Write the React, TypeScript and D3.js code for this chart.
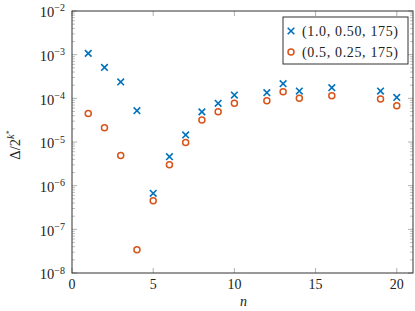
import React from "react";
import * as d3 from "d3";

// n values where both runs have a result
const nValues = [1, 2, 3, 4, 5, 6, 7, 8, 9, 10, 12, 13, 14, 16, 19, 20];
// (1.0, 0.50, 175)
const seriesA = [
  1.07e-3, 5.1e-4, 2.37e-4, 5.2e-5, 6.7e-7, 4.6e-6, 1.45e-5, 4.9e-5, 7.7e-5,
  1.19e-4, 1.35e-4, 2.17e-4, 1.47e-4, 1.75e-4, 1.47e-4, 1.05e-4,
];
// (0.5, 0.25, 175)
const seriesB = [
  4.5e-5, 2.13e-5, 4.9e-6, 3.4e-8, 4.5e-7, 3.0e-6, 9.7e-6, 3.2e-5, 4.9e-5,
  7.7e-5, 8.8e-5, 1.42e-4, 1.0e-4, 1.15e-4, 9.7e-5, 6.8e-5,
];
const legendLabels = ["(1.0, 0.50, 175)", "(0.5, 0.25, 175)"];
const xTicks = [0, 5, 10, 15, 20];
const yExponents = [-2, -3, -4, -5, -6, -7, -8];

export default function App() {
  const width = 415;
  const height = 311;
  const left = 72;
  const right = 413;
  const top = 11;
  const bottom = 273;
  const blue = "#0072BD";
  const orange = "#D95319";
  const font = "'Liberation Serif', 'DejaVu Serif', serif";

  const x = d3.scaleLinear().domain([0, 21]).range([left, right]);
  const y = d3.scaleLog().domain([1e-8, 1e-2]).range([bottom, top]);

  // minor ticks 2..9 per decade
  const minor: number[] = [];
  for (let e = -8; e < -2; e++) {
    for (let m = 2; m <= 9; m++) minor.push(m * Math.pow(10, e));
  }

  const tickColor = "#b0b0b0";

  return (
    <svg
      width={width}
      height={height}
      style={{ position: "absolute", left: 0, top: 0, background: "#fff" }}
    >
      {/* minor ticks on log axis */}
      {minor.map((v, i) => (
        <g key={"m" + i} stroke={tickColor} strokeWidth={0.8}>
          <line x1={left} x2={left + 3} y1={y(v)} y2={y(v)} />
          <line x1={right} x2={right - 3} y1={y(v)} y2={y(v)} />
        </g>
      ))}
      {/* major ticks */}
      {yExponents.map((e) => (
        <g key={"y" + e} stroke={tickColor} strokeWidth={1}>
          <line x1={left} x2={left + 5} y1={y(Math.pow(10, e))} y2={y(Math.pow(10, e))} />
          <line x1={right} x2={right - 5} y1={y(Math.pow(10, e))} y2={y(Math.pow(10, e))} />
        </g>
      ))}
      {xTicks.map((t) => (
        <g key={"x" + t} stroke={tickColor} strokeWidth={1}>
          <line x1={x(t)} x2={x(t)} y1={bottom} y2={bottom - 5} />
          <line x1={x(t)} x2={x(t)} y1={top} y2={top + 5} />
        </g>
      ))}

      {/* frame */}
      <rect
        x={left}
        y={top}
        width={right - left}
        height={bottom - top}
        fill="none"
        stroke="#333"
        strokeWidth={1}
      />

      {/* x tick labels */}
      {xTicks.map((t) => (
        <text
          key={"xl" + t}
          x={x(t)}
          y={289}
          textAnchor="middle"
          fontFamily={font}
          fontSize={14}
          fill="#222"
        >
          {t}
        </text>
      ))}

      {/* y tick labels */}
      {yExponents.map((e) => (
        <text
          key={"yl" + e}
          x={65}
          y={y(Math.pow(10, e)) + 6.3}
          textAnchor="end"
          fontFamily={font}
          fontSize={14.5}
          fill="#222"
        >
          10
          <tspan dy={-5.8} fontSize={10}>
            {"\u2212" + Math.abs(e)}
          </tspan>
        </text>
      ))}

      {/* axis labels */}
      <text
        x={243.5}
        y={306}
        textAnchor="middle"
        fontFamily={font}
        fontStyle="italic"
        fontSize={14}
        fill="#222"
      >
        n
      </text>
      <text
        transform="translate(20,145) rotate(-90)"
        textAnchor="middle"
        fontFamily={font}
        fontSize={14.5}
        fill="#222"
      >
        Δ/2
        <tspan dy={-6.5} fontSize={10.5} fontStyle="italic">
          k
        </tspan>
        <tspan dy={-2} fontSize={8}>
          *
        </tspan>
      </text>

      {/* series A: crosses */}
      {nValues.map((n, i) => {
        const cx = x(n);
        const cy = y(seriesA[i]);
        const r = 3.3;
        return (
          <path
            key={"a" + n}
            d={`M${cx - r},${cy - r}L${cx + r},${cy + r}M${cx - r},${cy + r}L${cx + r},${cy - r}`}
            stroke={blue}
            strokeWidth={1.6}
            fill="none"
          />
        );
      })}
      {/* series B: circles */}
      {nValues.map((n, i) => (
        <circle
          key={"b" + n}
          cx={x(n)}
          cy={y(seriesB[i])}
          r={3}
          fill="none"
          stroke={orange}
          strokeWidth={1.5}
        />
      ))}

      {/* legend */}
      <rect x={283} y={17} width={125} height={47} fill="#fff" stroke="#333" strokeWidth={1} />
      <path
        d="M287.7,27.7L294.3,34.3M287.7,34.3L294.3,27.7"
        stroke={blue}
        strokeWidth={1.6}
        fill="none"
      />
      <circle cx={291} cy={52} r={3} fill="none" stroke={orange} strokeWidth={1.5} />
      {legendLabels.map((l, i) => (
        <text
          key={l}
          x={302}
          y={35.5 + i * 21}
          fontFamily={font}
          fontSize={14}
          fill="#222"
          textLength={96}
        >
          {l}
        </text>
      ))}
    </svg>
  );
}
